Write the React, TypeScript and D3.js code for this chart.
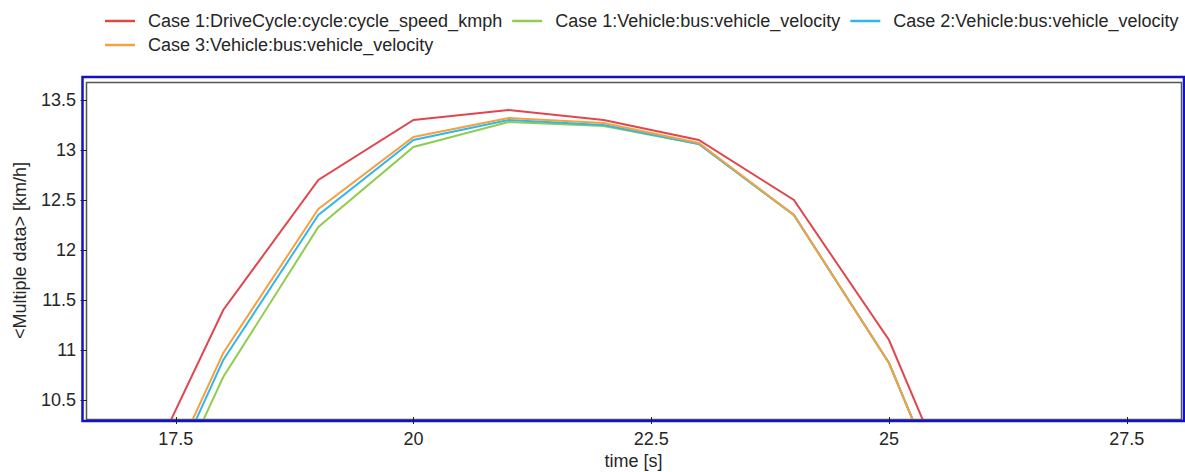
import React, { useRef, useEffect } from "react";
import * as d3 from "d3";

// time samples [s]
const time = [17, 18, 19, 20, 21, 22, 23, 24, 25, 26];

// speeds [km/h]
const cycleSpeed = [9.4, 11.4, 12.7, 13.3, 13.4, 13.3, 13.1, 12.5, 11.1, 8.85];
const case1Velocity = [8.68, 10.73, 12.23, 13.03, 13.28, 13.24, 13.06, 12.35, 10.87, 8.59];
const case2Velocity = [8.81, 10.9, 12.35, 13.1, 13.3, 13.25, 13.06, 12.35, 10.87, 8.59];
const case3Velocity = [8.9, 10.97, 12.41, 13.13, 13.32, 13.27, 13.07, 12.35, 10.87, 8.59];

const seriesNames = [
  "Case 1:DriveCycle:cycle:cycle_speed_kmph",
  "Case 1:Vehicle:bus:vehicle_velocity",
  "Case 2:Vehicle:bus:vehicle_velocity",
  "Case 3:Vehicle:bus:vehicle_velocity"
];
const seriesColors = ["#e0474c", "#8fcd4e", "#2fb8ef", "#f7a03f"];

const xTicks = [17.5, 20, 22.5, 25, 27.5];
const yTicks = [10.5, 11, 11.5, 12, 12.5, 13, 13.5];

const W = 1185;
const H = 472;
const FONT = "'Liberation Sans', Arial, sans-serif";

const App = () => {
  const svgRef = useRef(null);

  useEffect(() => {
    const svg = d3.select(svgRef.current);
    svg.selectAll("*").remove();

    const left = 86, right = 1181, top = 82, bottom = 419;

    const x = d3.scaleLinear().domain([16.557, 28.07]).range([left, right]);
    const y = d3.scaleLinear().domain([10.31, 13.68]).range([bottom, top]);

    const series = [cycleSpeed, case1Velocity, case2Velocity, case3Velocity].map((vals, i) => ({
      name: seriesNames[i],
      color: seriesColors[i],
      points: time.map((t, j) => ({ t, v: vals[j] }))
    }));

    // clip for the plot area
    svg.append("defs").append("clipPath").attr("id", "plotClip")
      .append("rect")
      .attr("x", left).attr("y", top)
      .attr("width", right - left).attr("height", bottom - top);

    // inner frame
    svg.append("rect")
      .attr("x", left + 0.5).attr("y", top + 0.5)
      .attr("width", right - left).attr("height", bottom - top)
      .attr("fill", "#fff")
      .attr("stroke", "#555")
      .attr("stroke-width", 1.5);

    // lines
    const lineGen = d3.line()
      .x(d => x(d.t))
      .y(d => y(d.v));

    svg.append("g").attr("clip-path", "url(#plotClip)")
      .selectAll("path")
      .data(series)
      .join("path")
      .attr("d", d => lineGen(d.points))
      .attr("fill", "none")
      .attr("stroke", d => d.color)
      .attr("stroke-width", 2);

    // outer blue frame
    svg.append("rect")
      .attr("x", 82.5).attr("y", 77)
      .attr("width", 1101.5).attr("height", 344)
      .attr("fill", "none")
      .attr("stroke", "#1212c8")
      .attr("stroke-width", 2.5);

    // y axis ticks + labels
    const yAxis = svg.append("g").attr("font-family", FONT).attr("font-size", 18).attr("fill", "#262626");
    yTicks.forEach(v => {
      yAxis.append("line")
        .attr("x1", 80.5).attr("x2", 86.5)
        .attr("y1", Math.round(y(v)) + 0.5).attr("y2", Math.round(y(v)) + 0.5)
        .attr("stroke", "#222");
      yAxis.append("text")
        .attr("x", 76).attr("y", y(v)).attr("dy", "0.36em")
        .attr("text-anchor", "end")
        .text(d3.format("")(v));
    });

    // x axis ticks + labels
    const xAxis = svg.append("g").attr("font-family", FONT).attr("font-size", 18).attr("fill", "#262626");
    xTicks.forEach(v => {
      xAxis.append("line")
        .attr("x1", Math.round(x(v)) + 0.5).attr("x2", Math.round(x(v)) + 0.5)
        .attr("y1", 417).attr("y2", 424)
        .attr("stroke", "#222");
      xAxis.append("text")
        .attr("x", x(v)).attr("y", 445)
        .attr("text-anchor", "middle")
        .text(d3.format("")(v));
    });

    // axis titles
    svg.append("text")
      .attr("x", (left + right) / 2).attr("y", 467)
      .attr("text-anchor", "middle")
      .attr("font-family", FONT).attr("font-size", 18).attr("fill", "#262626")
      .text("time [s]");
    svg.append("text")
      .attr("transform", `translate(26,${(top + bottom) / 2}) rotate(-90)`)
      .attr("text-anchor", "middle")
      .attr("font-family", FONT).attr("font-size", 18).attr("fill", "#262626")
      .text("<Multiple data> [km/h]");

    // legend, flowing left to right and wrapping
    const legend = svg.append("g").attr("font-family", FONT).attr("font-size", 18).attr("fill", "#262626");
    let lx = 105, ly = 21;
    series.forEach(s => {
      const item = legend.append("g");
      item.append("line")
        .attr("x1", 0).attr("x2", 30).attr("y1", 0).attr("y2", 0)
        .attr("stroke", s.color).attr("stroke-width", 2.5);
      const txt = item.append("text").attr("x", 43).attr("y", 0).attr("dy", "0.36em").text(s.name);
      const w = 43 + txt.node().getComputedTextLength();
      if (lx + w > W) {
        lx = 105;
        ly += 24;
      }
      item.attr("transform", `translate(${lx},${ly})`);
      lx += w + 10;
    });
  }, []);

  return (
    <svg
      ref={svgRef}
      width={W}
      height={H}
      style={{ position: "absolute", left: 0, top: 0, background: "#fff" }}
    />
  );
};

export default App;
